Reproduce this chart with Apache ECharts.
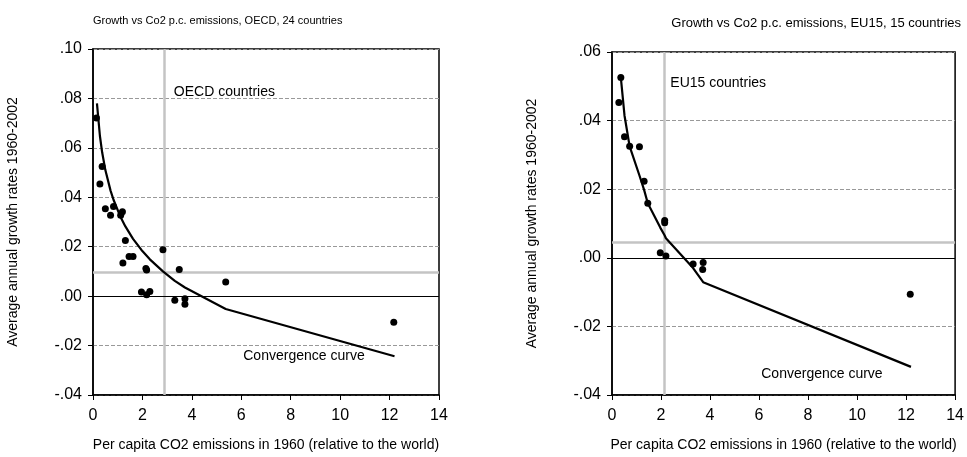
<!DOCTYPE html>
<html>
<head>
<meta charset="utf-8">
<script src="https://cdn.jsdelivr.net/npm/echarts@6/dist/echarts.min.js"></script>
<style>
  html, body { margin: 0; padding: 0; background: #fff; }
  #chart { width: 967px; height: 457px; }
</style>
</head>
<body>
<div id="chart"></div>
<script>
// OECD, 24 countries
var oecdX = [0.14, 0.28, 0.37, 0.50, 0.71, 0.83, 1.12, 1.19, 1.21, 1.31, 1.46, 1.62, 1.96, 2.14, 2.17, 2.17, 2.30, 2.83, 3.31, 3.49, 3.72, 3.72, 5.37, 12.17];
var oecdY = [0.0721, 0.0454, 0.0525, 0.0354, 0.0327, 0.0363, 0.0327, 0.0341, 0.0134, 0.0225, 0.0160, 0.0160, 0.0017, 0.0112, 0.0106, 0.0006, 0.0019, 0.0188, -0.0017, 0.0108, -0.0011, -0.0033, 0.0057, -0.0106];
var oecdCurveX = [0.16, 0.28, 0.37, 0.50, 0.71, 0.83, 1.12, 1.31, 1.62, 1.96, 2.30, 2.83, 3.31, 3.72, 5.37, 12.2];
var oecdCurveY = [0.0780, 0.0648, 0.0582, 0.0510, 0.0427, 0.0390, 0.0319, 0.0282, 0.0232, 0.0187, 0.0149, 0.0100, 0.0062, 0.0035, -0.0052, -0.0243];
var oecdMean = [2.88, 0.0096];

// EU15, 15 countries
var euX = [0.28, 0.36, 0.51, 0.72, 1.12, 1.31, 1.46, 1.97, 2.15, 2.15, 2.20, 3.31, 3.70, 3.72, 12.17];
var euY = [0.0453, 0.0526, 0.0353, 0.0325, 0.0324, 0.0223, 0.0159, 0.0015, 0.0109, 0.0102, 0.0005, -0.0018, -0.0034, -0.0014, -0.0106];
var euCurveX = [0.36, 0.51, 0.72, 1.12, 1.31, 1.46, 1.97, 2.15, 2.20, 3.31, 3.72, 12.2];
var euCurveY = [0.0526, 0.0415, 0.0325, 0.0240, 0.0198, 0.0159, 0.0088, 0.0065, 0.0057, -0.0030, -0.0071, -0.0318];
var euMean = [2.12, 0.0045];

var titles = ['Growth vs Co2 p.c. emissions, OECD, 24 countries', 'Growth vs Co2 p.c. emissions, EU15, 15 countries'];
var xName = 'Per capita CO2 emissions in 1960 (relative to the world)';
var yName = 'Average annual growth rates 1960-2002';
var oecdNotes = [[3.27, 0.0824, 'OECD countries'], [6.08, -0.0244, 'Convergence curve']];
var euNotes = [[2.38, 0.0509, 'EU15 countries'], [6.09, -0.0339, 'Convergence curve']];

function pairs(xs, ys) {
    return xs.map(function (x, i) { return [x, ys[i]]; });
}

function yLabel(v) {
    var s = Math.abs(v).toFixed(2).replace(/^0/, '');
    return (v < -1e-9 ? '-' : '') + s;
}

var font = 'Liberation Sans, Arial, sans-serif';

function xAxisFor(i) {
    return {
        gridIndex: i, type: 'value', min: 0, max: 14, interval: 2,
        name: xName, nameLocation: 'middle', nameGap: 43,
        nameTextStyle: { fontFamily: font, fontSize: 14, color: '#000' },
        axisLine: { onZero: false, lineStyle: { color: '#000', width: 1.5 } },
        axisTick: { inside: false, length: 5, lineStyle: { color: '#000' } },
        axisLabel: { fontFamily: font, fontSize: 16, color: '#000', margin: 13 },
        splitLine: { show: false }
    };
}

function yAxisFor(i, max) {
    return {
        gridIndex: i, type: 'value', min: -0.04, max: max, interval: 0.02,
        name: yName, nameLocation: 'middle', nameGap: 73,
        nameTextStyle: { fontFamily: font, fontSize: 14, color: '#000' },
        axisLine: { onZero: false, lineStyle: { color: '#000', width: 1.5 } },
        axisTick: { inside: false, length: 5, lineStyle: { color: '#000' } },
        axisLabel: { fontFamily: font, fontSize: 16, color: '#000', margin: 11, formatter: yLabel },
        splitLine: { show: true, lineStyle: { color: '#999', type: [4, 2], width: 1 } }
    };
}

function seriesFor(i, xs, ys, cx, cy, mean, notes) {
    return [
        {
            type: 'line', xAxisIndex: i, yAxisIndex: i, data: [], z: 1,
            markLine: {
                silent: true, symbol: 'none', animation: false, precision: 6, z: 1,
                label: { show: false },
                data: [
                    { xAxis: mean[0], lineStyle: { color: '#c4c4c4', type: 'solid', width: 2.5 } },
                    { yAxis: mean[1], lineStyle: { color: '#c4c4c4', type: 'solid', width: 2.5 } },
                    { yAxis: 0, lineStyle: { color: '#000', type: 'solid', width: 1 } }
                ]
            }
        },
        {
            type: 'line', xAxisIndex: i, yAxisIndex: i, data: pairs(cx, cy), z: 3,
            showSymbol: false, smooth: false,
            lineStyle: { color: '#000', width: 2.2 }
        },
        {
            type: 'scatter', xAxisIndex: i, yAxisIndex: i, data: pairs(xs, ys), z: 4,
            symbolSize: 7, itemStyle: { color: '#000', opacity: 1 }
        },
        {
            type: 'scatter', xAxisIndex: i, yAxisIndex: i, data: notes, z: 5,
            symbolSize: 0, itemStyle: { opacity: 1 },
            label: {
                show: true, position: [0, 0], align: 'left', verticalAlign: 'middle',
                fontFamily: font, fontSize: 14, color: '#000', opacity: 1,
                formatter: function (p) { return p.data[2]; }
            }
        }
    ];
}

var chart = echarts.init(document.getElementById('chart'));
chart.setOption({
    animation: false,
    backgroundColor: '#fff',
    title: [
        { text: titles[0], left: 88, top: 10, textStyle: { fontFamily: font, fontSize: 11, fontWeight: 'normal', color: '#000' } },
        { text: titles[1], right: 1, top: 12, textStyle: { fontFamily: font, fontSize: 13, fontWeight: 'normal', color: '#000' } }
    ],
    grid: [
        { left: 93, top: 49, width: 346, height: 346, show: true, borderColor: '#000', borderWidth: 1.5 },
        { left: 612, top: 52, width: 346, height: 345, show: true, borderColor: '#000', borderWidth: 1.5 }
    ],
    xAxis: [xAxisFor(0), xAxisFor(1)],
    yAxis: [yAxisFor(0, 0.10), yAxisFor(1, 0.06)],
    series: seriesFor(0, oecdX, oecdY, oecdCurveX, oecdCurveY, oecdMean, oecdNotes)
        .concat(seriesFor(1, euX, euY, euCurveX, euCurveY, euMean, euNotes))
});
</script>
</body>
</html>
